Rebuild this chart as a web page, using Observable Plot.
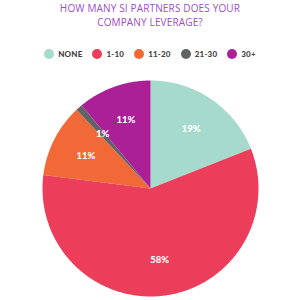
<!DOCTYPE html>
<html>
<head>
<meta charset="utf-8">
<script src="https://cdn.jsdelivr.net/npm/d3@7"></script>
<script src="https://cdn.jsdelivr.net/npm/@observablehq/plot@0.6"></script>
<style>
  html, body { margin: 0; padding: 0; background: #fff; width: 300px; height: 300px; overflow: hidden; }
  #title { position: absolute; top: 2px; left: 0; width: 300px; text-align: center; font-family: "Open Sans", sans-serif; font-size: 10px; line-height: 13.5px; color: #9a4ecb; letter-spacing: 0.15px; }
  #legend { position: absolute; top: 49px; left: 0; width: 300px; display: flex; justify-content: center; align-items: center; font-family: Lato, sans-serif; font-weight: 900; font-size: 8px; color: #444; letter-spacing: 0.2px; }
  .item { display: flex; align-items: center; margin: 0 5px; }
  .dot { width: 10px; height: 10px; border-radius: 50%; margin-right: 4px; }
  #chart { position: absolute; top: 75px; left: 0; }
</style>
</head>
<body>
<div id="title">HOW MANY SI PARTNERS DOES YOUR<br>COMPANY LEVERAGE?</div>
<div id="legend"></div>
<div id="chart"></div>
<script>
const categories = ["NONE", "1-10", "11-20", "21-30", "30+"];
const values = [19, 58, 11, 1, 11];
const labels = ["19%", "58%", "11%", "1%", "11%"];
const colors = ["#a6dacd", "#ec3e5a", "#f26938", "#626366", "#ab2096"];

// legend
const leg = document.getElementById("legend");
categories.forEach((c, i) => {
  const it = document.createElement("div");
  it.className = "item";
  const d = document.createElement("div");
  d.className = "dot";
  d.style.background = colors[i];
  const t = document.createElement("span");
  t.textContent = c;
  it.appendChild(d); it.appendChild(t);
  leg.appendChild(it);
});

// pie geometry in unit radius
const pie = d3.pie().sort(null).value(d => d.value);
const arcs = pie(categories.map((c, i) => ({category: c, value: values[i], label: labels[i]})));
const pts = [];
arcs.forEach(a => {
  const n = Math.max(2, Math.ceil((a.endAngle - a.startAngle) / 0.01));
  pts.push({category: a.data.category, x: 0, y: 0});
  for (let k = 0; k <= n; k++) {
    const t = a.startAngle + (a.endAngle - a.startAngle) * k / n;
    pts.push({category: a.data.category, x: Math.sin(t), y: -Math.cos(t)});
  }
});
const labelR = 0.67;
const labelPts = arcs.map(a => {
  const m = (a.startAngle + a.endAngle) / 2;
  return {label: a.data.label, x: Math.sin(m) * labelR, y: -Math.cos(m) * labelR};
});

const R = 108, W = 300, H = 225, cx = 150, cy = 113;
const plot = Plot.plot({
  width: W, height: H,
  margin: 0,
  x: {domain: [-cx / R, (W - cx) / R], range: [0, W], axis: null},
  y: {domain: [-cy / R, (H - cy) / R], range: [0, H], axis: null},
  color: {domain: categories, range: colors},
  marks: [
    Plot.line(pts, {x: "x", y: "y", z: "category", fill: "category", stroke: "none", curve: "linear-closed"}),
    Plot.text(labelPts, {x: "x", y: "y", text: "label", fill: "white", fontSize: 9.5, fontWeight: 900, fontFamily: "Lato, sans-serif"})
  ]
});
document.getElementById("chart").appendChild(plot);
</script>
</body>
</html>
